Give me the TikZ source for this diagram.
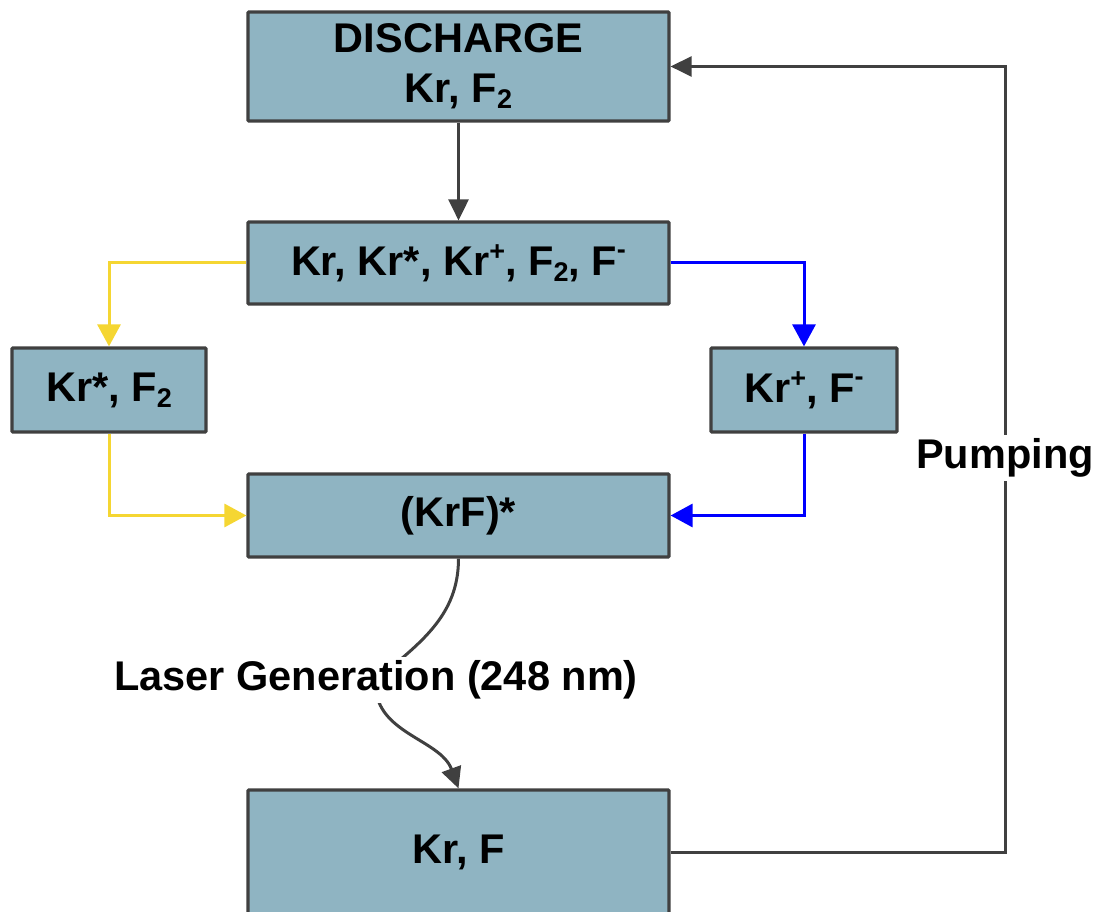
\documentclass[tikz,border=0pt]{standalone}
\usepackage{fontspec}
\setmainfont{Liberation Sans}
\usetikzlibrary{arrows.meta}
\definecolor{boxfill}{RGB}{143,180,194}
\definecolor{boxline}{RGB}{64,64,64}
\definecolor{yel}{RGB}{245,214,50}
\definecolor{blu}{RGB}{0,0,255}
\newcommand\supx[1]{\raisebox{15pt}{\fontsize{27}{27}\selectfont #1}}
\newcommand\supm[1]{\raisebox{17pt}{\fontsize{27}{27}\selectfont #1}}
\newcommand\subx[1]{\raisebox{-6pt}{\fontsize{27}{27}\selectfont #1}}
\begin{document}
\begin{tikzpicture}[x=1pt,y=-1pt,
  stagebox/.style={draw=boxline,fill=boxfill,line width=3.2pt,inner sep=0pt,rounded corners=1pt,
    font={\fontsize{41.5}{50}\selectfont\bfseries},align=center},
  lbl/.style={fill=white,inner xsep=2pt,inner ysep=4pt,font={\fontsize{41.5}{48}\selectfont\bfseries}},
  darr/.style={draw=boxline,line width=3pt,-{Triangle[length=21pt,width=20pt]}},
  yarr/.style={draw=yel,line width=3pt,-{Triangle[length=22pt,width=23pt]}},
  barr/.style={draw=blu,line width=3pt,-{Triangle[length=22pt,width=23pt]}}]
\useasboundingbox (0,0) rectangle (1101,912);
\clip (0,0) rectangle (1101,912);
\node[stagebox,minimum width=421pt,minimum height=109pt] (disch) at (458.5,66.5) {DISCHARGE\\Kr, F\subx{2}};
\node[stagebox,minimum width=421pt,minimum height=82pt] (mix) at (458.5,263) {Kr, Kr*, Kr\supx{+}, F\subx{2}, F\supm{-}};
\node[stagebox,minimum width=194pt,minimum height=84pt] (left) at (109,390) {Kr*, F\subx{2}};
\node[stagebox,minimum width=186pt,minimum height=84pt] (right) at (804,390) {Kr\supx{+}, F\supm{-}};
\node[stagebox,minimum width=421pt,minimum height=83pt] (krf) at (458.5,515.5) {(KrF)*};
\node[stagebox,minimum width=421pt,minimum height=124pt] (bot) at (458.5,852) {Kr, F};
\coordinate (pr) at (1005,458);
\coordinate (lgc) at (376,680);
\draw[darr] (disch.south) -- (mix.north);
\draw[yarr] (mix.west) -| (left.north);
\draw[yarr] (left.south) |- (krf.west);
\draw[barr] (mix.east) -| (right.north);
\draw[barr] (right.south) |- (krf.east);
\draw[darr] (bot.east) -| (pr) |- (disch.east);
\draw[darr] (krf.south) to[out=-90,in=40] (lgc) to[out=-95,in=110] (bot.north);
\node[lbl] (pump) at (pr) {Pumping};
\node[lbl] (lg) at (lgc) {Laser Generation (248 nm)};
\end{tikzpicture}
\end{document}
